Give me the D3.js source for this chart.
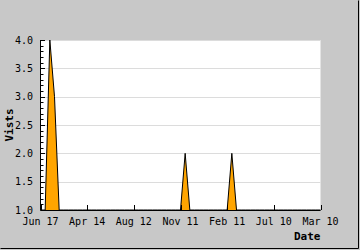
<!DOCTYPE html>
<html lang="en">
<meta charset="utf-8" />
<style>
    body { margin: 0; background: #c8c8c8; }
    text { font-family: "DejaVu Sans Mono", monospace; fill: #000; }
</style>
<body>
<svg width="360" height="250"></svg>
<script src="https://d3js.org/d3.v7.min.js"></script>
<script>
    // date labels shown every 10 points
    var dateLabels = ["Jun 17", "Apr 14", "Aug 12", "Nov 11", "Feb 11", "Jul 10", "Mar 10"]
    var labelIdx = [0, 10, 20, 30, 40, 50, 60]
    // visits per point (61 points)
    var visits = [1, 1, 4, 3, 1, 1, 1, 1, 1, 1,
                  1, 1, 1, 1, 1, 1, 1, 1, 1, 1,
                  1, 1, 1, 1, 1, 1, 1, 1, 1, 1,
                  1, 2, 1, 1, 1, 1, 1, 1, 1, 1,
                  1, 2, 1, 1, 1, 1, 1, 1, 1, 1,
                  1, 1, 1, 1, 1, 1, 1, 1, 1, 1,
                  1]
    var yTicks = [1.0, 1.5, 2.0, 2.5, 3.0, 3.5, 4.0]

    var svg = d3.select("svg")
    var pl = 40.5, pr = 320.5, pt = 40, pb = 210

    svg.append("rect").attr("width", 360).attr("height", 250).attr("fill", "#c8c8c8")
    // frame shadow
    svg.append("path").attr("d", "M0.5,248.5H358.5V0.5").attr("fill", "none").attr("stroke", "#000")

    var x = d3.scaleLinear().domain([0, visits.length - 1]).range([pl, pr])
    var y = d3.scaleLinear().domain([1, 4]).range([pb, pt])

    svg.append("rect")
        .attr("x", pl).attr("y", pt)
        .attr("width", pr - pl).attr("height", pb - pt)
        .attr("fill", "#fff")

    svg.selectAll("line.grid")
        .data(yTicks.slice(1))
        .enter().append("line")
        .attr("class", "grid")
        .attr("x1", pl).attr("x2", pr)
        .attr("y1", d => Math.round(y(d)) + 0.5).attr("y2", d => Math.round(y(d)) + 0.5)
        .attr("stroke", "#dcdcdc")

    var area = d3.area()
        .x((d, i) => x(i))
        .y0(y(1))
        .y1(d => y(d))
    var line = d3.line()
        .x((d, i) => x(i))
        .y(d => y(d))

    svg.append("path").datum(visits)
        .attr("d", area)
        .attr("fill", "#ffa500")
    svg.append("path").datum(visits)
        .attr("d", line)
        .attr("fill", "none")
        .attr("stroke", "#000")
        .attr("stroke-width", 1)

    // y axis with minor ticks
    var gy = svg.append("g")
    gy.append("line").attr("x1", pl).attr("x2", pl).attr("y1", pt).attr("y2", pb).attr("stroke", "#000")
    gy.selectAll("line.minor")
        .data(d3.range(10, 41).map(d => d / 10))
        .enter().append("line")
        .attr("x1", pl)
        .attr("x2", d => (Math.round(d * 10) % 5 === 0) ? pl + 4.5 : pl + 3)
        .attr("y1", d => Math.round(y(d)) + 0.5).attr("y2", d => Math.round(y(d)) + 0.5)
        .attr("stroke", "#000")
    gy.selectAll("text")
        .data(yTicks)
        .enter().append("text")
        .attr("x", 33)
        .attr("y", d => y(d) + 3.5)
        .attr("text-anchor", "end")
        .attr("font-size", 10)
        .text(d => d.toFixed(1))

    // x axis
    var gx = svg.append("g")
    gx.append("line").attr("x1", pl).attr("x2", pr).attr("y1", pb + 0.5).attr("y2", pb + 0.5).attr("stroke", "#000")
    gx.selectAll("line.tick")
        .data(labelIdx)
        .enter().append("line")
        .attr("x1", d => Math.round(x(d)) + 0.5).attr("x2", d => Math.round(x(d)) + 0.5)
        .attr("y1", pb).attr("y2", pb - 5)
        .attr("stroke", "#000")
    gx.selectAll("text")
        .data(labelIdx)
        .enter().append("text")
        .attr("x", d => x(d))
        .attr("y", 225)
        .attr("text-anchor", "middle")
        .attr("font-size", 10)
        .text((d, i) => dateLabels[i])

    svg.append("text")
        .attr("x", pr)
        .attr("y", 240)
        .attr("text-anchor", "end")
        .attr("font-size", 11)
        .attr("font-weight", "bold")
        .text("Date")

    svg.append("text")
        .attr("transform", "translate(13," + ((pt + pb) / 2) + ") rotate(-90)")
        .attr("text-anchor", "middle")
        .attr("font-size", 11)
        .attr("font-weight", "bold")
        .text("Vists")
</script>
</body>
</html>
